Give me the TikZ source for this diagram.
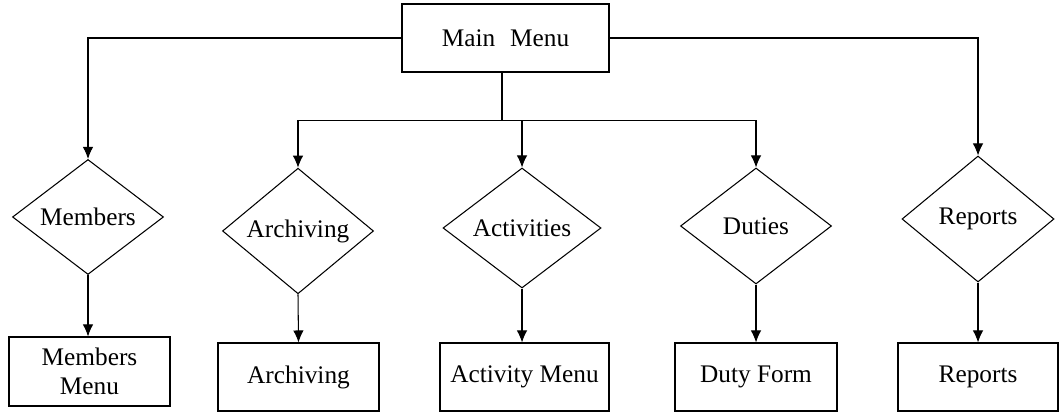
\documentclass[tikz,border=0pt]{standalone}
\usepackage{fontspec}
\setmainfont{Liberation Serif}
\usepackage{tikz}
\usetikzlibrary{shapes,shapes.geometric,arrows,calc,positioning}
\usetikzlibrary{arrows.meta}

\begin{document}
\begin{tikzpicture}[->,>={Latex[length=2.4mm,width=2.1mm]},line width=0.6pt,font=\fontsize{14.4}{16.5}\selectfont]
	\tikzstyle{menu} = [draw,rectangle,inner sep=0pt,text centered,align=center,minimum width=3.22cm,minimum height=1.36cm]
	\tikzstyle{choice} = [draw,diamond,inner sep=0pt,text centered,minimum width=3.02cm,minimum height=2.3cm]
	
	\useasboundingbox (0,0) rectangle (21.2,8.26);
	
	\node[menu,minimum width=4.14cm] (main) at (10.11,7.5) {Main\hspace{0.3cm}Menu};
	
	\node[choice] (D1) at (1.76,3.92) {Members};
	\node[choice,minimum height=2.12cm] (D2) at (5.96,3.64) {Archiving};
	\node[choice,minimum width=3.16cm,minimum height=2.4cm] (D3) at (10.44,3.7) {Activities};
	\node[choice,minimum height=2.32cm] (D4) at (15.12,3.74) {Duties};
	\node[choice,minimum width=3.04cm,minimum height=2.52cm] (D5) at (19.56,3.88) {Reports};
	
	\node[menu,minimum height=1.38cm] (M1) at (1.79,0.83) {Members\\Menu};
	\node[menu] (M2) at (5.97,0.72) {Archiving};
	\node[menu,minimum width=3.38cm] (M3) at (10.49,0.72) {Activity Menu};
	\node[menu,minimum width=3.24cm] (M4) at (15.12,0.72) {Duty Form};
	\node[menu,minimum width=3.2cm] (M5) at (19.56,0.72) {Reports};
	
	\coordinate (split) at ([xshift=-0.07cm,yshift=-0.96cm]main.south);
	
	%\draw[->] (main.south) -- (D3.north);
	\draw (main.west) -| (D1.north);
	\draw (main.east) -| (D5.north);
	\draw[-] (split |- main.south) -- (split);
	\draw (split) -| (D2.north);
	\draw (split) -| (D3.north);
	\draw (split) -| (D4.north);
	
	\draw (D1.south) -- (D1.south |- M1.north);
	\draw (D2.south) -- (M2.north);
	\draw (D3.south) -- (D3.south |- M3.north);
	\draw (D4.south) -- (M4.north);
	\draw (D5.south) -- (M5.north);
	
\end{tikzpicture}
\end{document}
